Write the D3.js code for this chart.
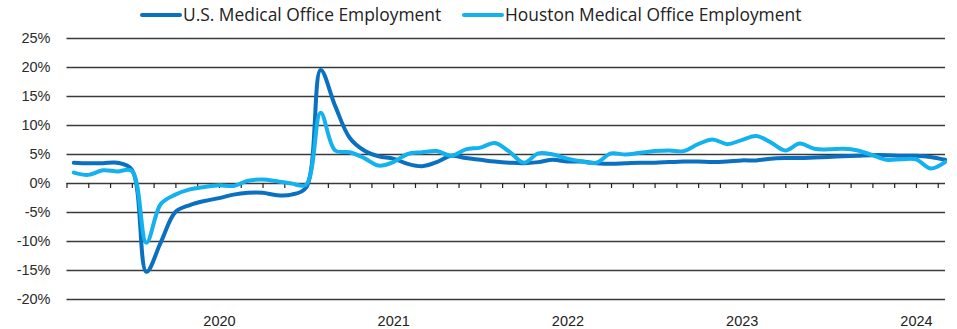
<!DOCTYPE html>
<html>
<head>
<meta charset="utf-8">
<script src="https://cdn.jsdelivr.net/npm/d3@7/dist/d3.min.js"></script>
<style>
  html, body { margin: 0; padding: 0; background: #fff; }
  svg { display: block; font-family: "Open Sans", "Noto Sans", sans-serif; }
</style>
</head>
<body>
<svg id="chart" width="957" height="329"></svg>
<script>
// Year-over-year employment change (%), monthly observations
const usEmployment = [3.5, 3.4, 3.4, 3.5, 2.3, -15.3, -10.2, -5.0, -3.8, -3.1,
  -2.6, -2.0, -1.7, -1.7, -2.1, -2.0, -0.8, 19.5, 13.3, 7.8,
  5.6, 4.6, 4.2, 3.3, 2.9, 3.6, 4.7, 4.3, 4.0, 3.7,
  3.5, 3.4, 3.6, 4.0, 3.7, 3.7, 3.4, 3.3, 3.4, 3.5,
  3.5, 3.6, 3.7, 3.7, 3.6, 3.7, 3.9, 3.9, 4.2, 4.3,
  4.3, 4.4, 4.5, 4.6, 4.7, 4.8, 4.8, 4.7, 4.7, 4.5, 4.0];

const houstonEmployment = [1.8, 1.4, 2.2, 2.0, 2.1, -10.3, -3.6, -2.0, -1.1, -0.7,
  -0.4, -0.5, 0.4, 0.6, 0.3, -0.1, -0.3, 12.1, 5.6, 5.3,
  4.3, 3.0, 3.6, 5.0, 5.3, 5.5, 4.7, 5.8, 6.1, 6.9,
  5.4, 3.5, 5.1, 4.9, 4.2, 3.7, 3.5, 5.1, 4.9, 5.2,
  5.5, 5.6, 5.5, 6.7, 7.5, 6.7, 7.4, 8.1, 7.0, 5.6,
  6.8, 5.9, 5.8, 5.9, 5.6, 4.8, 4.0, 4.1, 4.1, 2.5, 3.6];

const seriesNames = ["U.S. Medical Office Employment", "Houston Medical Office Employment"];
const seriesColors = ["#0a70c0", "#14b1ef"];

const yTickValues = [-20, -15, -10, -5, 0, 5, 10, 15, 20, 25];
const yearLabels = ["2020", "2021", "2022", "2023", "2024"];
const yearLabelIndex = [10, 22, 34, 46, 58];
const minorTickStep = 1.5;

(function draw() {
  const svg = d3.select("#chart");
  const plotLeft = 66.5, plotRight = 945, plotTop = 38, plotBottom = 299;

  const x = d3.scaleLinear().domain([-0.5, usEmployment.length - 1]).range([plotLeft, plotRight]);
  const y = d3.scaleLinear().domain([-20, 25]).range([plotBottom, plotTop]);

  // Horizontal gridlines with percentage labels
  const yAxis = svg.append("g")
    .attr("transform", `translate(${plotLeft},0)`)
    .call(d3.axisLeft(y).tickValues(yTickValues)
      .tickSize(-(plotRight - plotLeft)).tickPadding(16)
      .tickFormat(d => d + "%"));
  yAxis.select(".domain").remove();
  yAxis.selectAll(".tick line").attr("stroke", "#3a3a3a").attr("stroke-width", 1.3);
  yAxis.selectAll(".tick text").attr("fill", "#2b2b2b").style("font-size", "14.5px");

  // Small tick marks hanging under the zero line
  const minorTicks = d3.range(-0.5, usEmployment.length - 1 + 0.01, minorTickStep);
  const zeroAxis = svg.append("g")
    .attr("transform", `translate(0,${y(0)})`)
    .call(d3.axisBottom(x).tickValues(minorTicks).tickSize(5).tickFormat(""));
  zeroAxis.select(".domain").remove();
  zeroAxis.selectAll(".tick line").attr("stroke", "#222").attr("stroke-width", 1.2);

  // Year labels along the bottom
  const yearAxis = svg.append("g")
    .attr("transform", `translate(0,${plotBottom})`)
    .call(d3.axisBottom(x).tickValues(yearLabelIndex).tickSize(0).tickPadding(17)
      .tickFormat((d, i) => yearLabels[i]));
  yearAxis.select(".domain").remove();
  yearAxis.selectAll(".tick text").attr("fill", "#222").style("font-size", "14.5px");

  // Smoothed series lines
  const line = d3.line()
    .x((d, i) => x(i))
    .y(d => y(d))
    .curve(d3.curveCatmullRom.alpha(0.5));

  [usEmployment, houstonEmployment].forEach((series, k) => {
    svg.append("path")
      .datum(series)
      .attr("fill", "none")
      .attr("stroke", seriesColors[k])
      .attr("stroke-width", 4)
      .attr("stroke-linejoin", "round")
      .attr("stroke-linecap", "round")
      .attr("d", line);
  });

  // Legend
  const legendX = [142, 464];
  const legend = svg.append("g");
  seriesNames.forEach((name, k) => {
    const g = legend.append("g").attr("transform", `translate(${legendX[k]},15)`);
    g.append("line").attr("x1", 0).attr("x2", 38).attr("y1", 0).attr("y2", 0)
      .attr("stroke", seriesColors[k]).attr("stroke-width", 4).attr("stroke-linecap", "round");
    g.append("text").attr("x", 41).attr("y", 0).attr("dy", "0.35em")
      .attr("fill", "#222").style("font-size", "17.4px").text(name);
  });
})();
</script>
</body>
</html>
